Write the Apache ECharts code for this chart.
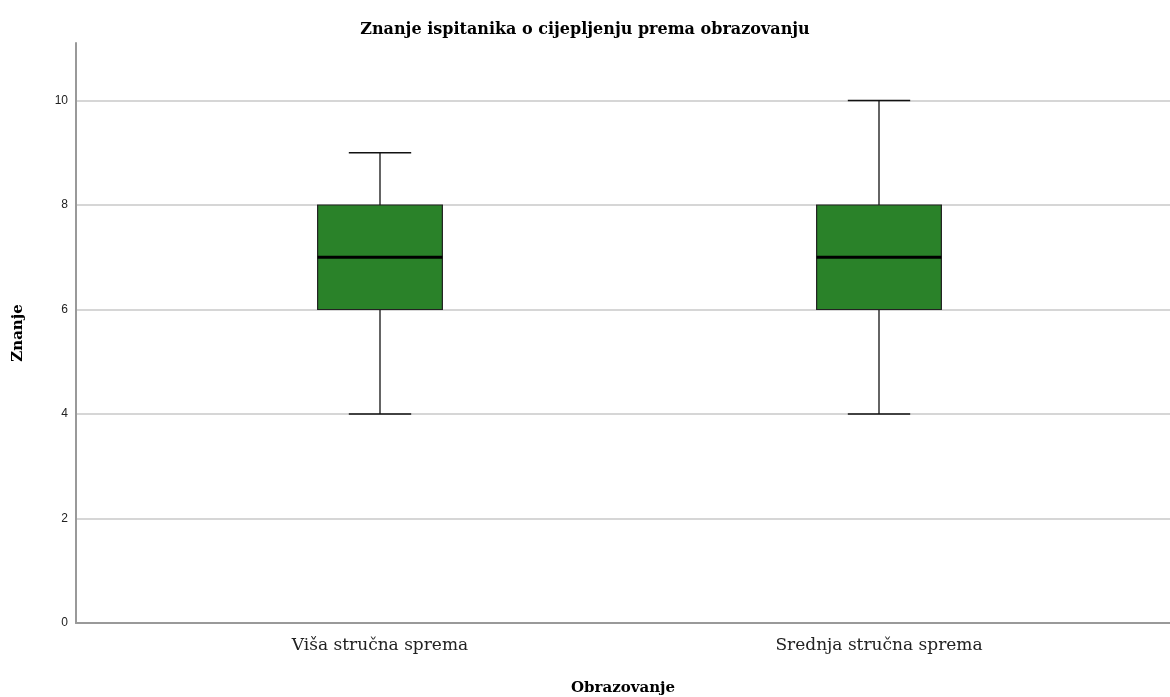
<!DOCTYPE html>
<html><head><meta charset="utf-8">
<script src="https://cdn.jsdelivr.net/npm/echarts@6/dist/echarts.min.js"></script>
<style>html,body{margin:0;padding:0;background:#fff}#c{width:1170px;height:697px}</style>
</head><body><div id="c"></div>
<script>
const categories = ['Viša stručna sprema', 'Srednja stručna sprema'];
const minVals = [4, 4];
const q1Vals = [6, 6];
const medianVals = [7, 7];
const q3Vals = [8, 8];
const maxVals = [9, 10];
const yTicks = [0, 2, 4, 6, 8, 10];

const data = categories.map((c, i) => [i, minVals[i], q1Vals[i], medianVals[i], q3Vals[i], maxVals[i]]);

const chart = echarts.init(document.getElementById('c'));
const yMax = 11.1;
chart.setOption({
  animation: false,
  title: {
    text: 'Znanje ispitanika o cijepljenju prema obrazovanju',
    left: 'center', top: 17,
    textStyle: {fontFamily: 'DejaVu Serif', fontWeight: 'bold', fontSize: 16, color: '#000'}
  },
  grid: [
    {left: 76, right: 0, top: 43, bottom: 74, outerBoundsMode: 'none', containLabel: false},
    {left: 130.5, right: 41.5, top: 43, bottom: 74, outerBoundsMode: 'none', containLabel: false}
  ],
  xAxis: [
    {gridIndex: 0, type: 'value', min: 0, max: 1, axisLabel: {show: false}, axisTick: {show: false},
     splitLine: {show: false}, axisLine: {lineStyle: {color: '#999', width: 2}},
     name: 'Obrazovanje', nameLocation: 'middle', nameGap: 58,
     nameTextStyle: {fontFamily: 'DejaVu Serif', fontWeight: 'bold', fontSize: 15, color: '#000'}},
    {gridIndex: 1, type: 'category', data: categories, axisLine: {show: false}, axisTick: {show: false},
     axisLabel: {fontFamily: 'DejaVu Serif', fontSize: 17, color: '#222', margin: 14}}
  ],
  yAxis: [
    {gridIndex: 0, type: 'value', min: 0, max: yMax, interval: 2,
     axisLabel: {fontFamily: 'Liberation Sans', fontSize: 12, color: '#222', margin: 8,
       formatter: v => (yTicks.indexOf(v) >= 0 ? String(v) : '')},
     axisTick: {show: false}, axisLine: {show: true, lineStyle: {color: '#999', width: 2}},
     splitLine: {show: true, showMaxLine: false, showMinLine: false, lineStyle: {color: '#c8c8c8', width: 1.5}},
     name: 'Znanje', nameLocation: 'middle', nameGap: 50, nameRotate: 90,
     nameTextStyle: {fontFamily: 'DejaVu Serif', fontWeight: 'bold', fontSize: 15, color: '#000'}},
    {gridIndex: 1, type: 'value', min: 0, max: yMax, show: false, splitLine: {show: false}}
  ],
  series: [{
    type: 'custom', xAxisIndex: 1, yAxisIndex: 1,
    encode: {x: 0, y: [1, 5]},
    data: data,
    renderItem: function (params, api) {
      const x = api.value(0);
      const pMin = api.coord([x, api.value(1)]);
      const pQ1 = api.coord([x, api.value(2)]);
      const pMed = api.coord([x, api.value(3)]);
      const pQ3 = api.coord([x, api.value(4)]);
      const pMax = api.coord([x, api.value(5)]);
      const bw = api.size([1, 0])[0] * 0.25;
      const cx = pMed[0];
      const lineStyle = {stroke: '#111', lineWidth: 1.3};
      return {
        type: 'group',
        children: [
          {type: 'line', shape: {x1: cx, y1: pMax[1], x2: cx, y2: pQ3[1]}, style: lineStyle},
          {type: 'line', shape: {x1: cx, y1: pQ1[1], x2: cx, y2: pMin[1]}, style: lineStyle},
          {type: 'line', shape: {x1: cx - bw / 4, y1: pMax[1], x2: cx + bw / 4, y2: pMax[1]}, style: lineStyle},
          {type: 'line', shape: {x1: cx - bw / 4, y1: pMin[1], x2: cx + bw / 4, y2: pMin[1]}, style: lineStyle},
          {type: 'rect', shape: {x: cx - bw / 2, y: pQ3[1], width: bw, height: pQ1[1] - pQ3[1]},
           style: {fill: '#2a8229', stroke: '#222', lineWidth: 1.2}},
          {type: 'line', shape: {x1: cx - bw / 2, y1: pMed[1], x2: cx + bw / 2, y2: pMed[1]},
           style: {stroke: '#000', lineWidth: 3}}
        ]
      };
    }
  }]
});
</script></body></html>
